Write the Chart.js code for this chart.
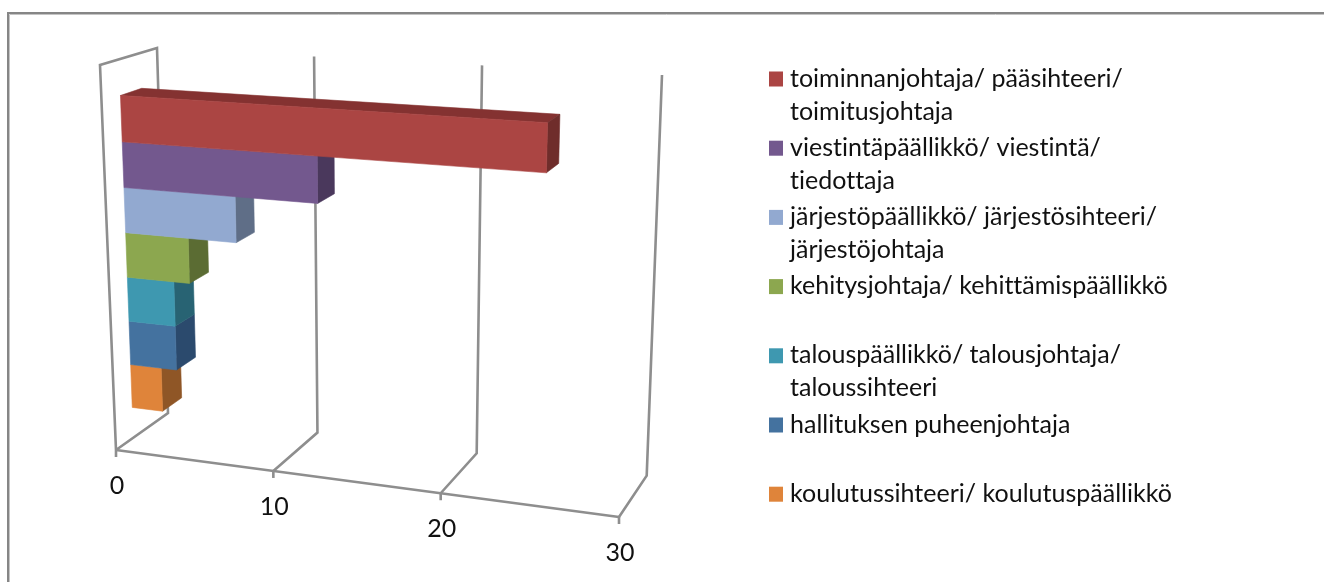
<!DOCTYPE html>
<html>
<head>
<meta charset="utf-8">
<style>html,body{margin:0;padding:0;background:#fff;overflow:hidden}canvas{display:block;filter:blur(0.4px)}</style>
<script src="https://cdn.jsdelivr.net/npm/chart.js@4"></script>
</head>
<body>
<canvas id="c" width="1324" height="582"></canvas>
<script>
const seriesLabels = [
  ['toiminnanjohtaja/ pääsihteeri/', 'toimitusjohtaja'],
  ['viestintäpäällikkö/ viestintä/', 'tiedottaja'],
  ['järjestöpäällikkö/ järjestösihteeri/', 'järjestöjohtaja'],
  ['kehitysjohtaja/ kehittämispäällikkö'],
  ['talouspäällikkö/ talousjohtaja/', 'taloussihteeri'],
  ['hallituksen puheenjohtaja'],
  ['koulutussihteeri/ koulutuspäällikkö']
];
const seriesValues = [25, 12, 7, 4, 3, 3, 2];
const frontColors = ['#AB4543', '#73588E', '#92A9D0', '#8CA74F', '#3E98B0', '#44729F', '#DF843A'];
const sideColors  = ['#6F2D2B', '#4A385C', '#5F6E87', '#5B6C33', '#286373', '#2B4A6D', '#8F5626'];
const topColors   = ['#843231', '#5A4570', '#76879F', '#6E8440', '#317A8D', '#365B80', '#B2692E'];
const axisMin = 0, axisMax = 30, axisStep = 10;

// Projection of the chart box: [top-left, top-right, bottom-right, bottom-left]
const frontQuad = [[100, 65], [634, 96], [619, 517], [116, 450]];
const backQuad  = [[157, 48], [662, 75], [646.7, 475.6], [168, 413]];
const barFront = 0.335, barBack = 0.71, barShift = 0.0035;

function quadMap(q) {
  const [p0, p1, p2, p3] = q;
  const dx1 = p1[0] - p2[0], dx2 = p3[0] - p2[0], sx = p0[0] - p1[0] + p2[0] - p3[0];
  const dy1 = p1[1] - p2[1], dy2 = p3[1] - p2[1], sy = p0[1] - p1[1] + p2[1] - p3[1];
  const den = dx1 * dy2 - dx2 * dy1;
  const g = (sx * dy2 - dx2 * sy) / den, h = (dx1 * sy - sx * dy1) / den;
  const a = p1[0] - p0[0] + g * p1[0], b = p3[0] - p0[0] + h * p3[0], c = p0[0];
  const d = p1[1] - p0[1] + g * p1[1], e = p3[1] - p0[1] + h * p3[1], f = p0[1];
  return (u, v) => {
    const w = g * u + h * v + 1;
    return [(a * u + b * v + c) / w, (d * u + e * v + f) / w];
  };
}
const mapFront = quadMap(frontQuad), mapBack = quadMap(backQuad);
function project(u, v, t) {
  const A = mapFront(u, v), B = mapBack(u, v);
  return [A[0] + (B[0] - A[0]) * t, A[1] + (B[1] - A[1]) * t];
}
function poly(ctx, pts, fill) {
  ctx.beginPath();
  pts.forEach((p, i) => i ? ctx.lineTo(p[0], p[1]) : ctx.moveTo(p[0], p[1]));
  ctx.closePath();
  ctx.fillStyle = fill;
  ctx.fill();
  ctx.strokeStyle = fill;
  ctx.lineWidth = 0.6;
  ctx.stroke();
}
function path(ctx, pts) {
  ctx.beginPath();
  pts.forEach((p, i) => i ? ctx.lineTo(p[0], p[1]) : ctx.moveTo(p[0], p[1]));
  ctx.stroke();
}

const perspectiveBars = {
  id: 'perspectiveBars',
  beforeDatasetsDraw(chart) {
    const ctx = chart.ctx, area = chart.chartArea, xs = chart.scales.x;
    const U = px => (px - area.left) / (area.right - area.left);
    const V = py => (py - area.top) / (area.bottom - area.top);
    ctx.save();

    // frame
    ctx.lineCap = 'butt';
    ctx.strokeStyle = '#868686';
    ctx.lineWidth = 2;
    path(ctx, [[8, 582], [8, 13], [1324, 13]]);
    ctx.strokeStyle = '#c4c4c4';
    ctx.lineWidth = 1;
    path(ctx, [[9.5, 582], [9.5, 14.5], [1324, 14.5]]);

    // walls, floor, gridlines
    ctx.strokeStyle = '#8e8e8e';
    ctx.lineWidth = 2.6;
    ctx.lineJoin = 'miter';
    xs.ticks.forEach(tk => {
      const u = U(xs.getPixelForValue(tk.value));
      const pts = [project(u, 1, 0), project(u, 1, 1), project(u, 0, 1)];
      if (tk.value === axisMin) pts.push(project(u, 0, 0), project(u, 1, 0));
      path(ctx, pts);
      const f = project(u, 1, 0);
      path(ctx, [f, [f[0], f[1] + 7]]);
    });
    path(ctx, [project(0, 1, 0), project(1, 1, 0)]);

    // bars: lowest first so each upper bar overlaps the side of the one below it
    const n = chart.data.datasets.length;
    for (let i = n - 1; i >= 0; i--) {
      const el = chart.getDatasetMeta(i).data[0];
      const p = el.getProps(['x', 'y', 'base', 'height'], true);
      const u0 = U(p.base), u1 = U(p.x);
      const v0 = V(p.y - p.height / 2) + barShift, v1 = V(p.y + p.height / 2) + barShift;
      if (i === 0) {
        poly(ctx, [project(u0, v0, barFront), project(u1, v0, barFront), project(u1, v0, barBack), project(u0, v0, barBack)], topColors[i]);
      }
      poly(ctx, [project(u1, v0, barFront), project(u1, v0, barBack), project(u1, v1, barBack), project(u1, v1, barFront)], sideColors[i]);
      poly(ctx, [project(u0, v0, barFront), project(u1, v0, barFront), project(u1, v1, barFront), project(u0, v1, barFront)], frontColors[i]);
    }

    // tick labels
    ctx.letterSpacing = '0.01px';
    ctx.fillStyle = '#111';
    ctx.font = '25px Lato';
    ctx.textAlign = 'center';
    ctx.textBaseline = 'middle';
    xs.ticks.forEach(tk => {
      const f = project(U(xs.getPixelForValue(tk.value)), 1, 0);
      ctx.fillText(String(tk.value), f[0] + 1, f[1] + 36);
    });

    // legend
    ctx.textAlign = 'left';
    seriesLabels.forEach((lines, i) => {
      const y0 = 78.5 + i * 69.2;
      ctx.fillStyle = frontColors[i];
      ctx.fillRect(769, y0 - 7, 14, 15);
      ctx.fillStyle = '#111';
      lines.forEach((s, j) => ctx.fillText(s, 790, y0 + j * 33));
    });
    ctx.restore();
    return false;
  }
};

new Chart(document.getElementById('c'), {
  type: 'bar',
  data: {
    labels: [''],
    datasets: seriesLabels.map((lines, i) => ({
      label: lines.join(' '),
      data: [seriesValues[i]],
      backgroundColor: frontColors[i]
    }))
  },
  options: {
    indexAxis: 'y',
    responsive: false,
    animation: false,
    devicePixelRatio: 1,
    categoryPercentage: 0.825,
    barPercentage: 1,
    layout: { padding: 0 },
    plugins: { legend: { display: false }, title: { display: false }, tooltip: { enabled: false } },
    scales: {
      x: { display: false, min: axisMin, max: axisMax, ticks: { stepSize: axisStep } },
      y: { display: false }
    }
  },
  plugins: [perspectiveBars]
});
</script>
</body>
</html>
